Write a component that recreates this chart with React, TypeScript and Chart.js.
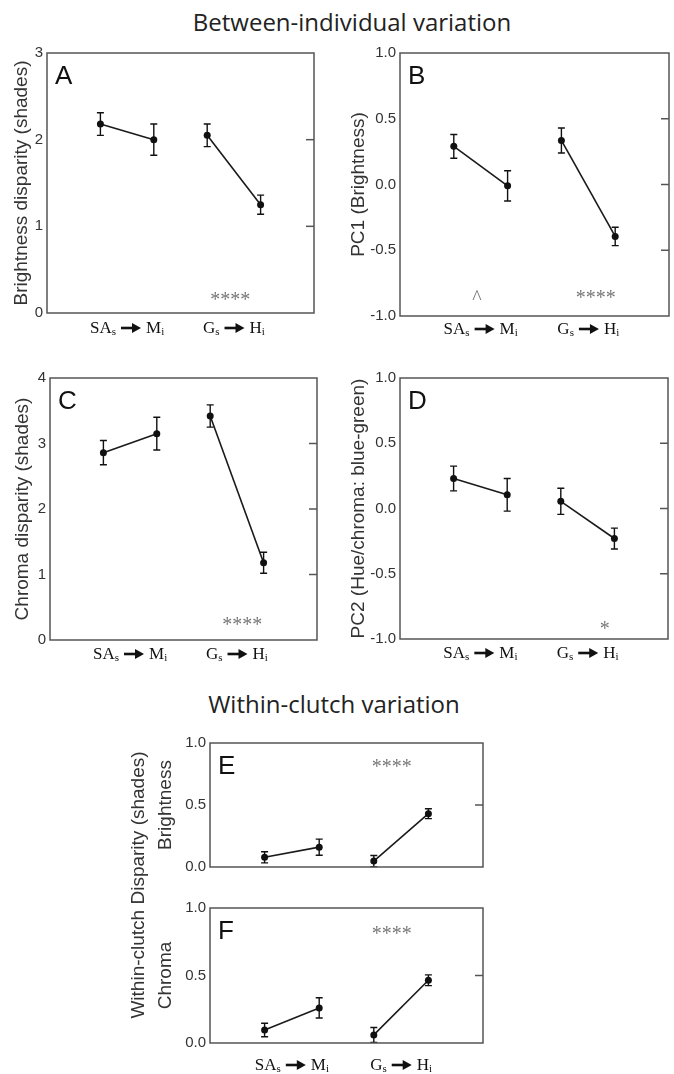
import React, { useEffect, useRef } from 'react';
import { Chart, registerables } from 'chart.js';
Chart.register(...registerables);

// ---- data ----
const xPositions = [1, 2, 3, 4];
const groupLabelX = [1.5, 3.5];
const groupLabels = [
  { a: 'SA', as: 's', b: 'M', bs: 'i' },
  { a: 'G', as: 's', b: 'H', bs: 'i' },
];

const meansA = [2.18, 2.0, 2.05, 1.25];
const errsA = [0.13, 0.18, 0.13, 0.11];
const meansB = [0.29, -0.01, 0.335, -0.395];
const errsB = [0.09, 0.115, 0.095, 0.07];
const meansC = [2.86, 3.15, 3.42, 1.18];
const errsC = [0.185, 0.25, 0.17, 0.16];
const meansD = [0.23, 0.105, 0.055, -0.23];
const errsD = [0.095, 0.125, 0.1, 0.08];
const meansE = [0.078, 0.16, 0.048, 0.43];
const errsE = [0.045, 0.065, 0.045, 0.04];
const meansF = [0.096, 0.26, 0.06, 0.465];
const errsF = [0.05, 0.075, 0.055, 0.04];

// significance marks: text, x value, y value
const notesA = [{ t: '****', x: 3.43, y: 0.19 }];
const notesB = [{ t: '^', x: 1.43, y: -0.84 }, { t: '****', x: 3.64, y: -0.84 }];
const notesC = [{ t: '****', x: 3.6, y: 0.28 }];
const notesD = [{ t: '*', x: 3.82, y: -0.9 }];
const notesE = [{ t: '****', x: 3.33, y: 0.83 }];
const notesF = [{ t: '****', x: 3.33, y: 0.83 }];

const SANS = '"Liberation Sans", Arial, sans-serif';
const SERIF = '"Liberation Serif", "Times New Roman", serif';

type Panel = {
  letter: string; yTitle: string; yMin: number; yMax: number; yStep: number; dec: number;
  means: number[]; errs: number[]; notes: { t: string; x: number; y: number }[];
  box: { cl: number; ct: number; cw: number; ch: number; L: number; T: number; R: number; B: number };
  titlePad: number; xLabels: boolean; xLabelGap: number;
};

const panels: Panel[] = [
  { letter: 'A', yTitle: 'Brightness disparity (shades)', yMin: 0, yMax: 3, yStep: 1, dec: 0,
    means: meansA, errs: errsA, notes: notesA,
    box: { cl: 0, ct: 40, cw: 330, ch: 305, L: 47, T: 47, R: 314, B: 313 }, titlePad: 10, xLabels: true, xLabelGap: 20 },
  { letter: 'B', yTitle: 'PC1 (Brightness)', yMin: -1, yMax: 1, yStep: 0.5, dec: 1,
    means: meansB, errs: errsB, notes: notesB,
    box: { cl: 330, ct: 40, cw: 344, ch: 305, L: 400, T: 47, R: 669, B: 316 }, titlePad: 17, xLabels: true, xLabelGap: 18 },
  { letter: 'C', yTitle: 'Chroma disparity (shades)', yMin: 0, yMax: 4, yStep: 1, dec: 0,
    means: meansC, errs: errsC, notes: notesC,
    box: { cl: 0, ct: 365, cw: 330, ch: 305, L: 50, T: 378, R: 317, B: 640 }, titlePad: 11, xLabels: true, xLabelGap: 19 },
  { letter: 'D', yTitle: 'PC2 (Hue/chroma: blue-green)', yMin: -1, yMax: 1, yStep: 0.5, dec: 1,
    means: meansD, errs: errsD, notes: notesD,
    box: { cl: 330, ct: 365, cw: 344, ch: 305, L: 400, T: 378, R: 668, B: 639 }, titlePad: 17, xLabels: true, xLabelGap: 19 },
  { letter: 'E', yTitle: 'Brightness', yMin: 0, yMax: 1, yStep: 0.5, dec: 1,
    means: meansE, errs: errsE, notes: notesE,
    box: { cl: 140, ct: 730, cw: 360, ch: 150, L: 210, T: 740, R: 483, B: 872 }, titlePad: 14, xLabels: false, xLabelGap: 0 },
  { letter: 'F', yTitle: 'Chroma', yMin: 0, yMax: 1, yStep: 0.5, dec: 1,
    means: meansF, errs: errsF, notes: notesF,
    box: { cl: 140, ct: 895, cw: 360, ch: 179, L: 210, T: 908, R: 483, B: 1043 }, titlePad: 14, xLabels: true, xLabelGap: 27 },
];

function drawArrow(ctx: CanvasRenderingContext2D, x: number, y: number, w: number) {
  ctx.save();
  ctx.strokeStyle = '#111';
  ctx.fillStyle = '#111';
  ctx.lineWidth = 2.6;
  ctx.beginPath();
  ctx.moveTo(x, y);
  ctx.lineTo(x + w - 7, y);
  ctx.stroke();
  ctx.beginPath();
  ctx.moveTo(x + w - 9, y - 5);
  ctx.lineTo(x + w, y);
  ctx.lineTo(x + w - 9, y + 5);
  ctx.closePath();
  ctx.fill();
  ctx.restore();
}

function drawGroupLabel(ctx: CanvasRenderingContext2D, cx: number, base: number, lab: any) {
  const big = `17px ${SERIF}`;
  const small = `11px ${SERIF}`;
  const arrowW = 20, gap = 5;
  ctx.font = big; const w1 = ctx.measureText(lab.a).width; const w2 = ctx.measureText(lab.b).width;
  ctx.font = small; const s1 = ctx.measureText(lab.as).width; const s2 = ctx.measureText(lab.bs).width;
  const total = w1 + s1 + gap + arrowW + gap + w2 + s2;
  let x = cx - total / 2;
  ctx.fillStyle = '#111';
  ctx.textAlign = 'left';
  ctx.textBaseline = 'alphabetic';
  ctx.font = big; ctx.fillText(lab.a, x, base); x += w1;
  ctx.font = small; ctx.fillText(lab.as, x, base + 2); x += s1 + gap;
  drawArrow(ctx, x, base - 5, arrowW); x += arrowW + gap;
  ctx.font = big; ctx.fillText(lab.b, x, base); x += w2;
  ctx.font = small; ctx.fillText(lab.bs, x, base + 2);
}

function PanelChart({ p }: { p: Panel }) {
  const ref = useRef<HTMLCanvasElement>(null);
  useEffect(() => {
    if (!ref.current) return;
    const { cl, ct, cw, ch, L, T, R, B } = p.box;
    const decor = {
      id: 'decor',
      afterDatasetsDraw(chart: any) {
        const { ctx, chartArea: a, scales } = chart;
        const xs = scales.x, ys = scales.y;
        ctx.save();
        // error bars
        ctx.strokeStyle = '#111';
        ctx.lineWidth = 1.4;
        chart.data.datasets.forEach((ds: any) => {
          ds.data.forEach((pt: any, i: number) => {
            const e = ds.errs[i];
            const px = xs.getPixelForValue(pt.x);
            const y1 = ys.getPixelForValue(pt.y - e);
            const y2 = ys.getPixelForValue(pt.y + e);
            ctx.beginPath();
            ctx.moveTo(px, y1); ctx.lineTo(px, y2);
            ctx.moveTo(px - 3.5, y1); ctx.lineTo(px + 3.5, y1);
            ctx.moveTo(px - 3.5, y2); ctx.lineTo(px + 3.5, y2);
            ctx.stroke();
          });
        });
        // frame
        ctx.strokeStyle = '#555';
        ctx.lineWidth = 1.5;
        ctx.strokeRect(a.left, a.top, a.right - a.left, a.bottom - a.top);
        // right inward ticks
        ys.ticks.forEach((t: any) => {
          if (t.value > ys.min + 1e-9 && t.value < ys.max - 1e-9) {
            const py = ys.getPixelForValue(t.value);
            ctx.beginPath(); ctx.moveTo(a.right - 8, py); ctx.lineTo(a.right, py); ctx.stroke();
          }
        });
        // panel letter
        ctx.fillStyle = '#111';
        ctx.font = `26px ${SANS}`;
        ctx.textAlign = 'left';
        ctx.textBaseline = 'alphabetic';
        ctx.fillText(p.letter, a.left + 8, a.top + 31);
        // significance marks
        ctx.fillStyle = '#777';
        ctx.font = `20px ${SERIF}`;
        ctx.textAlign = 'center';
        p.notes.forEach((n) => {
          const px = xs.getPixelForValue(n.x);
          const py = ys.getPixelForValue(n.y);
          ctx.fillText(n.t, px, py + 0.47 * 20);
        });
        // x group labels
        if (p.xLabels) {
          groupLabelX.forEach((gx, i) => {
            drawGroupLabel(ctx, xs.getPixelForValue(gx), a.bottom + p.xLabelGap, groupLabels[i]);
          });
        }
        ctx.restore();
      },
    };
    const datasets = [0, 1].map((g) => ({
      data: [0, 1].map((k) => ({ x: xPositions[g * 2 + k], y: p.means[g * 2 + k] })),
      errs: p.errs.slice(g * 2, g * 2 + 2),
      borderColor: '#1a1a1a',
      borderWidth: 1.6,
      pointRadius: 3.5,
      pointBackgroundColor: '#111',
      pointBorderWidth: 0,
      fill: false,
    }));
    const chart = new Chart(ref.current, {
      type: 'line',
      data: { datasets } as any,
      options: {
        animation: false,
        responsive: false,
        layout: { padding: { left: 0, top: T - ct, right: cl + cw - R, bottom: 0 } },
        plugins: { legend: { display: false }, tooltip: { enabled: false } },
        scales: {
          x: {
            type: 'linear', min: 0, max: 5,
            ticks: { display: false },
            grid: { display: false, drawTicks: false },
            border: { display: false },
            afterFit: (s: any) => { s.height = ct + ch - B; },
          },
          y: {
            type: 'linear', min: p.yMin, max: p.yMax,
            ticks: {
              stepSize: p.yStep,
              callback: (v: any) => Number(v).toFixed(p.dec),
              font: { family: SANS, size: 15 },
              color: '#333',
              padding: 4,
            },
            grid: { display: false, drawTicks: false },
            border: { display: false },
            title: {
              display: true, text: p.yTitle, color: '#333',
              font: { family: SANS, size: 19 },
              padding: { top: p.titlePad, bottom: 0 },
            },
            afterFit: (s: any) => { s.width = L - cl; },
          },
        },
      } as any,
      plugins: [decor],
    });
    return () => chart.destroy();
  }, [p]);
  const { cl, ct, cw, ch } = p.box;
  return (
    <div style={{ position: 'absolute', left: cl, top: ct, width: cw, height: ch }}>
      <canvas ref={ref} width={cw} height={ch} style={{ display: 'block' }} />
    </div>
  );
}

export default function App() {
  return (
    <div style={{ position: 'absolute', left: 0, top: 0, width: 674, height: 1074, background: '#fff', overflow: 'hidden' }}>
      <div style={{ position: 'absolute', left: 0, width: 704, top: 10, textAlign: 'center', fontFamily: '"Open Sans", sans-serif', fontSize: 24, lineHeight: '24px', color: '#222' }}>
        Between-individual variation
      </div>
      <div style={{ position: 'absolute', left: 0, width: 668, top: 692, textAlign: 'center', fontFamily: '"Open Sans", sans-serif', fontSize: 24, lineHeight: '24px', color: '#222' }}>
        Within-clutch variation
      </div>
      {panels.map((p) => <PanelChart key={p.letter} p={p} />)}
      <div style={{ position: 'absolute', left: 138 - 160, top: 885 - 12, width: 320, height: 24, lineHeight: '24px', textAlign: 'center', transform: 'rotate(-90deg)', fontFamily: SANS, fontSize: 19, color: '#333', whiteSpace: 'nowrap' }}>
        Within-clutch Disparity (shades)
      </div>
    </div>
  );
}
